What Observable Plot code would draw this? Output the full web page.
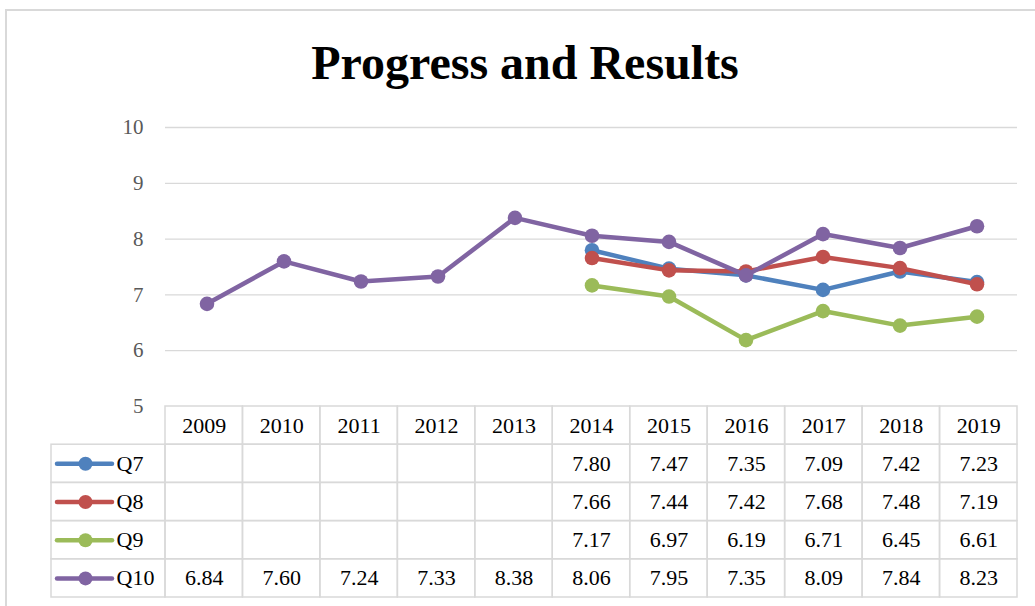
<!DOCTYPE html>
<html>
<head>
<meta charset="utf-8">
<script src="https://cdn.jsdelivr.net/npm/d3@7"></script>
<script src="https://cdn.jsdelivr.net/npm/@observablehq/plot@0.6"></script>
<style>
  html, body { margin: 0; padding: 0; background: #fff; width: 1035px; height: 606px; overflow: hidden; }
  #frame { position: absolute; left: 5px; top: 9px; width: 1100px; height: 700px; border: 2px solid #d9d9d9; box-sizing: border-box; }
  #title { position: absolute; left: 0; top: 39px; width: 1050px; text-align: center; font: bold 48px "Liberation Serif", "Times New Roman", serif; line-height: 48px; color: #000; }
  #chart { position: absolute; left: 0; top: 0; }
  #table { position: absolute; left: 0; top: 405px; }
</style>
</head>
<body>
<div id="frame"></div>
<div id="title">Progress and Results</div>
<div id="chart"></div>
<div id="table"></div>
<script>
// ---- data ----
const years = ["2009","2010","2011","2012","2013","2014","2015","2016","2017","2018","2019"];
const seriesNames = ["Q7", "Q8", "Q9", "Q10"];
const seriesColors = ["#4f81bd", "#c0504d", "#9bbb59", "#8064a2"];
const q7  = [null, null, null, null, null, 7.80, 7.47, 7.35, 7.09, 7.42, 7.23];
const q8  = [null, null, null, null, null, 7.66, 7.44, 7.42, 7.68, 7.48, 7.19];
const q9  = [null, null, null, null, null, 7.17, 6.97, 6.19, 6.71, 6.45, 6.61];
const q10 = [6.84, 7.60, 7.24, 7.33, 8.38, 8.06, 7.95, 7.35, 8.09, 7.84, 8.23];
const yTicks = [5, 6, 7, 8, 9, 10];

const seriesValues = [q7, q8, q9, q10];
const rows = [];
seriesNames.forEach((s, si) => {
  seriesValues[si].forEach((v, i) => rows.push({series: s, si, year: years[i], col: i, value: v}));
});
const present = rows.filter(d => d.value != null);

const serif = '"Liberation Serif", "Times New Roman", serif';
const W = 1035;
const plotLeft = 165, plotRight = 1017;

// ---- chart ----
const chartMarks = [
  Plot.ruleY(yTicks.filter(t => t > 5), {stroke: "#d9d9d9", strokeWidth: 1.3})
];
seriesNames.forEach((s, si) => {
  const d = present.filter(r => r.series === s);
  chartMarks.push(Plot.line(d, {x: "year", y: "value", stroke: seriesColors[si], strokeWidth: 4.5, strokeLinejoin: "round", strokeLinecap: "round"}));
  chartMarks.push(Plot.dot(d, {x: "year", y: "value", r: 7.3, fill: seriesColors[si], stroke: "none"}));
});

const chart = Plot.plot({
  width: W,
  height: 407,
  marginTop: 127,
  marginBottom: 1,
  marginLeft: plotLeft,
  marginRight: W - plotRight,
  style: {fontFamily: serif, fontSize: "21px", color: "#595959", background: "transparent", overflow: "visible"},
  x: {type: "band", domain: years, padding: 0, axis: null},
  y: {domain: [5, 10], ticks: yTicks, tickSize: 0, tickPadding: 22, label: null, tickFormat: d => String(d)},
  marks: chartMarks
});
document.getElementById("chart").appendChild(chart);

// ---- data table ----
const colW = (plotRight - plotLeft) / years.length;
const legendCols = (plotLeft - 51) / colW;
const px = p => -legendCols + p / colW; // legend-cell offsets in column units

const cells = [];
years.forEach((y, i) => cells.push({x1: i, x2: i + 1, y1: 0, y2: 1}));
seriesNames.forEach((s, si) => {
  cells.push({x1: -legendCols, x2: 0, y1: si + 1, y2: si + 2});
  years.forEach((y, i) => cells.push({x1: i, x2: i + 1, y1: si + 1, y2: si + 2}));
});
const legendRows = seriesNames.map((s, si) => ({series: s, si, row: si + 1.5}));

const table = Plot.plot({
  width: W,
  height: 194,
  marginTop: 1,
  marginBottom: 2,
  marginLeft: 51,
  marginRight: W - plotRight,
  style: {fontFamily: serif, fontSize: "22px", color: "#000", background: "transparent", overflow: "visible"},
  x: {type: "linear", domain: [-legendCols, years.length], axis: null},
  y: {type: "linear", domain: [0, 5], range: [1, 192], axis: null},
  marks: [
    Plot.rect(cells, {x1: "x1", x2: "x2", y1: "y1", y2: "y2", fill: "none", stroke: "#d9d9d9", strokeWidth: 1.5}),
    Plot.text(years, {x: (d, i) => i + 0.5, y: 0.5, text: d => d, fill: "#000"}),
    Plot.text(present, {x: d => d.col + 0.5, y: d => d.si + 1.5, text: d => d.value.toFixed(2), fill: "#000"}),
    Plot.ruleY(legendRows, {y: "row", x1: px(6), x2: px(61), stroke: d => seriesColors[d.si], strokeWidth: 4.5, strokeLinecap: "round"}),
    Plot.dot(legendRows, {x: px(34), y: "row", r: 7, fill: d => seriesColors[d.si], stroke: "none"}),
    Plot.text(legendRows, {x: px(65), y: "row", text: "series", textAnchor: "start", fill: "#000"})
  ]
});
document.getElementById("table").appendChild(table);
</script>
</body>
</html>
